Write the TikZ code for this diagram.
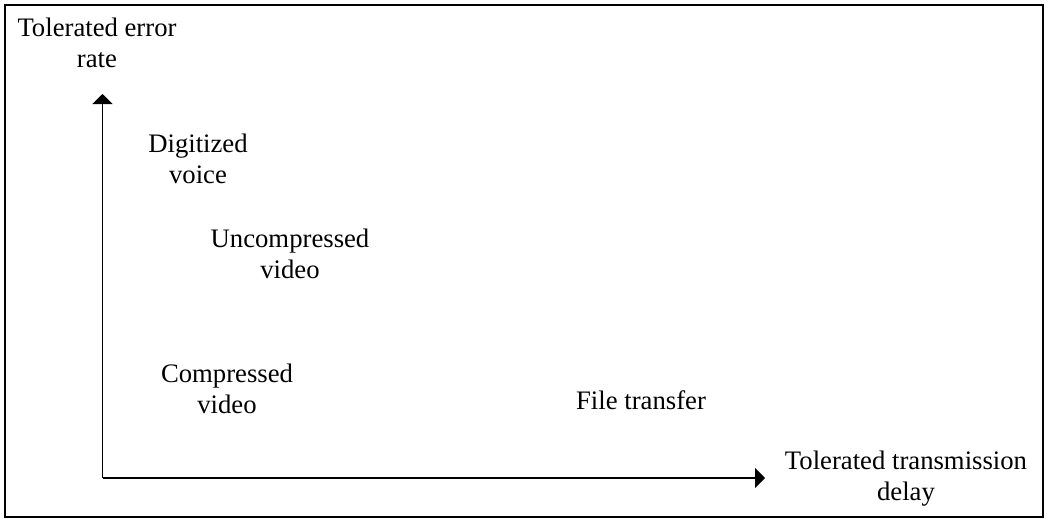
\documentclass[tikz,border=0pt]{standalone}
\usepackage{fontspec}
\setmainfont{Liberation Serif}
\usetikzlibrary{arrows.meta}
\begin{document}
\begin{tikzpicture}[x=1pt,y=-1pt,
  lbl/.style={inner sep=0pt,align=center,font=\fontsize{26.7}{30.5}\selectfont,anchor=north},
  axis/.style={line width=1.6pt,-{Triangle[length=10pt,width=20pt]}},
  frame/.style={line width=1.6pt}]
  \useasboundingbox (0,0) rectangle (1047,519);
  \draw[frame] (5,5) rectangle (1043,517);
  % axes
  \coordinate (origin) at (102.5,478);
  \coordinate (ytip) at (102.5,94);
  \coordinate (xtip) at (765,478);
  \draw[axis] (origin) -- (ytip);
  \draw[axis] (origin) -- (xtip);
  % labels
  \node[lbl] (err) at (97,18) {Tolerated error\\rate};
  \node[lbl] (voice) at (198,134) {Digitized\\voice};
  \node[lbl] (unc) at (290,229) {Uncompressed\\video};
  \node[lbl] (comp) at (227,364) {Compressed\\video};
  \node[lbl,anchor=base] (file) at (641,409) {File transfer};
  \node[lbl] (delay) at (906,451) {Tolerated transmission\\delay};
\end{tikzpicture}
\end{document}
